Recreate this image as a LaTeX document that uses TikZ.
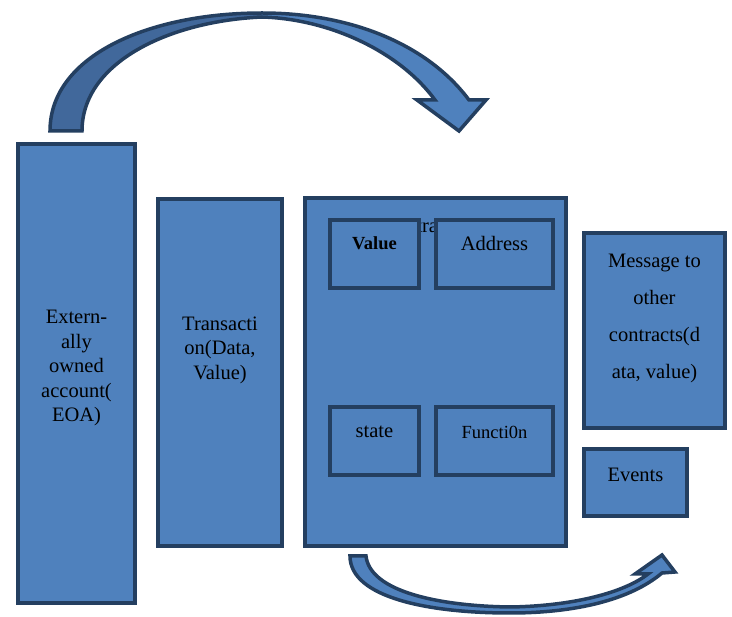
\documentclass[tikz,border=0pt]{standalone}
\usepackage{fontspec}
\setmainfont{Liberation Serif}
\definecolor{boxfill}{HTML}{4F81BD}
\definecolor{boxline}{HTML}{243F60}
\definecolor{bandshade}{HTML}{41689B}
\begin{document}
\begin{tikzpicture}[x=1pt,y=-1pt,
  block/.style={draw=boxline, fill=boxfill, line width=4.5pt},
  boxtext/.style={font=\fontsize{20.5}{24.5}\selectfont, align=center, inner sep=0pt},
  widetext/.style={font=\fontsize{20.5}{37}\selectfont, align=center, inner sep=0pt},
  smalltext/.style={font=\fontsize{18.5}{22}\selectfont, align=center, inner sep=0pt},
  bentarrow/.style={draw=boxline, line width=3.5pt, line join=miter}]
\useasboundingbox (0,0) rectangle (732,617);

% top curved arrow: account -> contract
\def\toparrow{(50,131) .. controls (50,55) and (150,13) .. (262,13)
  .. controls (352,13) and (428,45) .. (469,100) -- (486,100) -- (459,131)
  -- (417,100) -- (435,100) .. controls (400,52) and (330,19) .. (262,17)
  .. controls (170,21) and (82,62) .. (82,131) -- cycle}
\fill[boxfill] \toparrow;
\begin{scope}
  \clip (0,0) rectangle (262,140);
  \fill[bandshade] \toparrow;
\end{scope}
\draw[bentarrow] \toparrow;

% outer boxes
\draw[block] (18,144) rectangle (135,603);
\draw[block] (158,199) rectangle (282,546);
\draw[block] (305,198) rectangle (566,546);
\draw[block] (584,233) rectangle (725,428);
\draw[block] (584,449) rectangle (687,516);

% contract title, partly covered by the inner boxes
\node[boxtext, anchor=base west] (ctitle) at (382,233) {Contract};

% inner boxes of the contract
\draw[block] (330,220) rectangle (419,288);
\draw[block] (436,220) rectangle (553,288);
\draw[block] (330,407) rectangle (419,475);
\draw[block] (436,407) rectangle (553,475);

% labels
\node[boxtext] (eoa) at (76.5,368) {Extern-\\ally\\owned\\account(\\EOA)};
\node[boxtext] (tx) at (220,350) {Transacti\\on(Data,\\Value)};
\node[widetext] (msg) at (654.5,318) {Message to\\other\\contracts(d\\ata, value)};
\node[boxtext] (events) at (635.5,475) {Events};
\node[smalltext, font=\fontsize{18.5}{22}\selectfont\bfseries] (value) at (374.5,243) {Value};
\node[boxtext] (addr) at (494.5,243) {Address};
\node[boxtext] (state) at (374.5,432) {state};
\node[smalltext] (func) at (494.5,432) {Functi0n};

% bottom curved arrow: contract -> outputs
\draw[bentarrow, fill=boxfill] (350,556) -- (366,556)
  .. controls (370,592) and (440,606) .. (510,607)
  .. controls (575,606) and (625,592) .. (648,574)
  -- (635,574) -- (662,555) -- (675,572) -- (662,573)
  .. controls (630,600) and (575,613) .. (510,613)
  .. controls (430,613) and (350,598) .. (350,556) -- cycle;
\end{tikzpicture}
\end{document}
